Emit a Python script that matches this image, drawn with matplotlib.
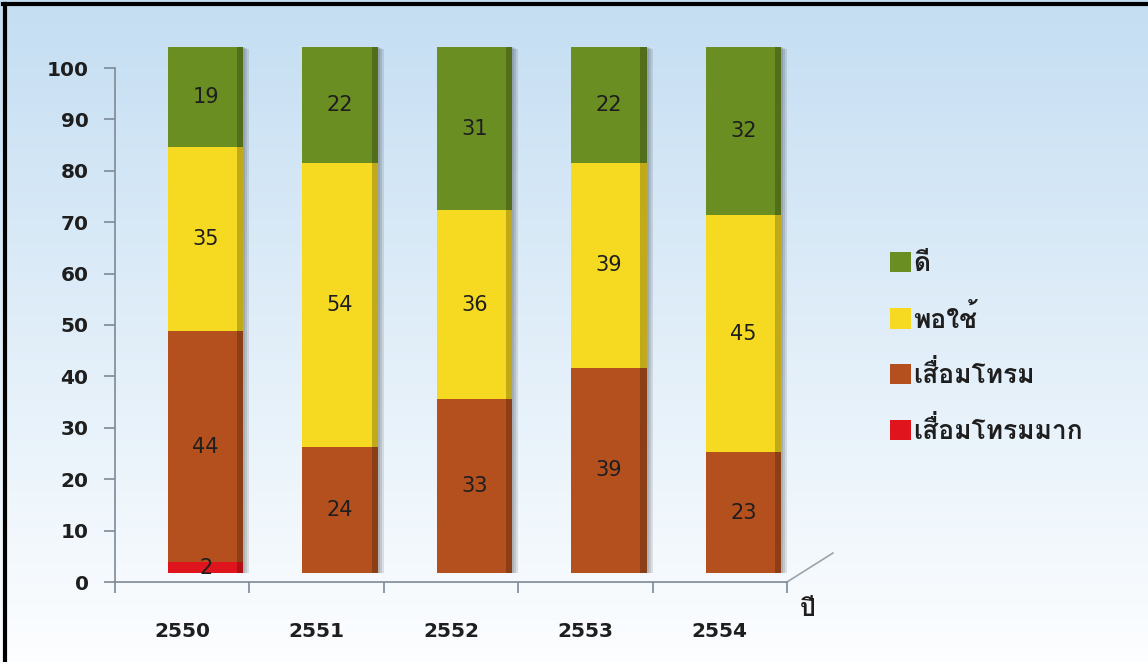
import numpy as np
import matplotlib
matplotlib.use("Agg")
import matplotlib.pyplot as plt
from matplotlib import font_manager as fm
from matplotlib.patches import Rectangle
from matplotlib.lines import Line2D
import matplotlib.transforms as mtransforms

# ---------------- data ----------------
years = ["2550", "2551", "2552", "2553", "2554"]
categories = ["เสื่อมโทรมมาก", "เสื่อมโทรม", "พอใช้", "ดี"]
very_poor = [2, 0, 0, 0, 0]
poor = [44, 24, 33, 39, 23]
fair = [35, 54, 36, 39, 45]
good = [19, 22, 31, 22, 32]
yticks = [0, 10, 20, 30, 40, 50, 60, 70, 80, 90, 100]
xlabel = "ปี"

colors = ["#e0141c", "#b4501e", "#f6da22", "#6a8e22"]

# ---------------- font with Thai glyphs ----------------
def find_thai_font():
    try:
        from fontTools.ttLib import TTFont
    except Exception:
        return None
    for f in fm.fontManager.ttflist:
        try:
            tt = TTFont(f.fname, fontNumber=0, lazy=True)
            cmap = tt.getBestCmap()
            if cmap and 0x0E14 in cmap and 0x0E35 in cmap and 0x0E1B in cmap:
                return f.name
        except Exception:
            continue
    return None

thai = find_thai_font()
fams = ["DejaVu Sans"]
if thai:
    fams = [thai, "DejaVu Sans"]
plt.rcParams["font.family"] = ["DejaVu Sans"]

W, H = 1148, 662
fig = plt.figure(figsize=(W / 100, H / 100), dpi=100)

def px(x0, y0, x1, y1):
    # pixel box (top-left origin) -> figure fraction rect
    return [x0 / W, 1 - y1 / H, (x1 - x0) / W, (y1 - y0) / H]

# background gradient
bg = fig.add_axes([0, 0, 1, 1], zorder=-10)
top = np.array([0.77, 0.87, 0.95])
bot = np.array([0.99, 0.995, 1.0])
t = np.linspace(0, 1, 256)[:, None]
grad = top[None, :] * (1 - t) + bot[None, :] * t
bg.imshow(grad[:, None, :], aspect="auto", extent=[0, 1, 0, 1])
bg.axis("off")

txt_col = "#1e1e1e"

# main axis (ticks)
ax = fig.add_axes(px(115, 68, 787, 582))
ax.set_facecolor("none")
ax.set_xlim(-0.5, 4.5)
ax.set_ylim(0, 100)
for s in ["top", "right"]:
    ax.spines[s].set_visible(False)
axis_col = "#7d8a96"
ax.spines["left"].set_color(axis_col)
ax.spines["bottom"].set_color(axis_col)
ax.spines["left"].set_linewidth(1.2)
ax.spines["bottom"].set_linewidth(1.2)
ax.set_yticks(yticks)
ax.set_yticklabels([str(v) for v in yticks], fontsize=14.5, color=txt_col,
                   fontweight="bold")
ax.tick_params(axis="y", length=8, width=1.2, color=axis_col, pad=11)
ax.set_xticks(np.arange(-0.5, 5.0, 1.0))
ax.set_xticklabels([])
ax.set_xticks(np.arange(len(years)), minor=True)
ax.set_xticklabels(years, minor=True, fontsize=14.5, color=txt_col,
                   fontweight="bold")
ax.tick_params(axis="x", which="major", length=8, width=1.2, color=axis_col, direction="out")
ax.tick_params(axis="x", which="minor", length=0, pad=29)
# floor edge
ax.add_line(Line2D([1, 1 + 46 / 672], [0, 29 / 514], transform=ax.transAxes,
                   color="#9aa4ad", lw=1.2, clip_on=False))

# bar axis (3D-shifted back wall)
bax = fig.add_axes(px(115 + 23.5, 47, 787 + 23.5, 573))
bax.set_facecolor("none")
bax.set_xlim(-0.5, 4.5)
bax.set_ylim(0, 100)
bax.axis("off")

x = np.arange(len(years))
series = [very_poor, poor, fair, good]
bottom = np.zeros(len(years))
width = 0.56

# shadow
totals = np.sum(np.array(series), axis=0)
for k in range(3):
    bax.bar(x, totals, width, color="black", alpha=0.10, transform=bax.transData +
            mtransforms.ScaledTranslation(0.02 + 0.02 * k, -0.01 * k, fig.dpi_scale_trans),
            zorder=1)

handles = []
for vals, col, name in zip(series, colors, categories):
    vals = np.array(vals, dtype=float)
    bars = bax.bar(x, vals, width, bottom=bottom, color=col, label=name, zorder=2)
    handles.append(bars)
    for xi, v, b in zip(x, vals, bottom):
        if v > 0:
            bax.text(xi, b + v / 2, f"{int(v)}", ha="center", va="center",
                     fontsize=15, color=txt_col, zorder=3)
    bottom = bottom + vals

# right dark edge on bars
for xi, tot in zip(x, totals):
    bax.add_patch(Rectangle((xi + width / 2 - 0.045, 0), 0.045, tot,
                            color="black", alpha=0.22, lw=0, zorder=2.5))

# legend
leg = fig.legend(handles=handles[::-1], labels=categories[::-1],
                 loc="upper left", bbox_to_anchor=(866 / W, 1 - 228 / H),
                 frameon=False, handlelength=0.8, handleheight=0.8,
                 handletextpad=0.1, labelspacing=1.05,
                 prop={"family": fams, "size": 19, "weight": "bold"})
for txt in leg.get_texts():
    txt.set_color(txt_col)

fig.text(800 / W, 1 - 610 / H, xlabel, fontsize=18, color=txt_col,
         family=fams, fontweight="bold", ha="left", va="center")

# frame
fig.add_artist(Line2D([0.004, 0.004], [0, 0.994], transform=fig.transFigure,
                      color="black", lw=3))
fig.add_artist(Line2D([0.003, 1], [0.994, 0.994], transform=fig.transFigure,
                      color="black", lw=3))

fig.savefig("out.png", dpi=100)
